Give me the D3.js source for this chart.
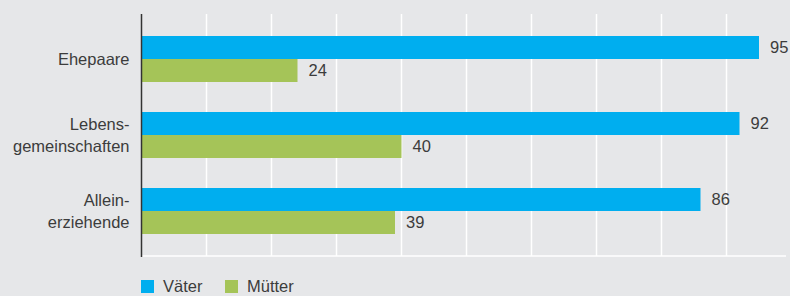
<!DOCTYPE html>
<html><head><meta charset="utf-8">
<script src="https://cdn.jsdelivr.net/npm/d3@7"></script>
<style>
html,body{margin:0;padding:0;background:#e6e7e9;}
svg{display:block;font-family:"Liberation Sans",Arial,sans-serif;}
</style></head>
<body>
<svg id="chart" width="790" height="296"></svg>
<script>
const categories = [["Ehepaare"], ["Lebens-", "gemeinschaften"], ["Allein-", "erziehende"]];
const categoryKeys = ["Ehepaare", "Lebensgemeinschaften", "Alleinerziehende"];
const seriesNames = ["Väter", "Mütter"];
const vaeter = [95, 92, 86];
const muetter = [24, 40, 39];
const xTicks = [10, 20, 30, 40, 50, 60, 70, 80, 90];
const colors = ["#00aeef", "#a5c458"];

const svg = d3.select("#chart");
const x = d3.scaleLinear().domain([0, 100]).range([141.5, 791.5]);
const y = d3.scaleBand().domain(categoryKeys).range([14, 256]).paddingInner(30/76).paddingOuter(22/76);
const sub = d3.scaleBand().domain(seriesNames).range([0, y.bandwidth()]);
const fs = 16.5, txt = "#3c3c3c";

svg.append("rect").attr("width", 790).attr("height", 296).attr("fill", "#e6e7e9");

// gridlines
svg.append("g").selectAll("line").data(xTicks).join("line")
  .attr("x1", d => x(d)).attr("x2", d => x(d))
  .attr("y1", 14).attr("y2", 256)
  .attr("stroke", "#ffffff").attr("stroke-width", 1.5);
// baseline
svg.append("line").attr("x1", x(0)).attr("x2", 786).attr("y1", 256).attr("y2", 256)
  .attr("stroke", "#ffffff").attr("stroke-width", 1.5);

const data = categoryKeys.map((k, i) => ({key: k, values: [vaeter[i], muetter[i]]}));

const g = svg.append("g").selectAll("g").data(data).join("g")
  .attr("transform", d => `translate(0,${y(d.key)})`);
g.selectAll("rect").data(d => d.values.map((v, j) => ({s: seriesNames[j], v, j}))).join("rect")
  .attr("x", x(0)).attr("y", d => sub(d.s))
  .attr("width", d => x(d.v) - x(0)).attr("height", sub.bandwidth())
  .attr("fill", d => colors[d.j]);
g.selectAll("text").data(d => d.values.map((v, j) => ({s: seriesNames[j], v, j}))).join("text")
  .attr("x", d => x(d.v) + 11).attr("y", d => sub(d.s) + sub.bandwidth() / 2)
  .attr("dy", "0.36em").attr("font-size", fs).attr("fill", txt)
  .text(d => d.v);

// y axis line
svg.append("line").attr("x1", x(0)).attr("x2", x(0)).attr("y1", 14).attr("y2", 257)
  .attr("stroke", "#333333").attr("stroke-width", 1.5);

// category labels
const lab = svg.append("g").selectAll("text").data(categoryKeys).join("text")
  .attr("text-anchor", "end").attr("font-size", fs).attr("fill", txt);
lab.each(function(k, i) {
  const lines = categories[i];
  const cy = y(k) + y.bandwidth() / 2;
  const t = d3.select(this);
  lines.forEach((ln, li) => {
    t.append("tspan").attr("x", 129.5)
      .attr("y", cy + (li - (lines.length - 1) / 2) * 22)
      .attr("dy", "0.36em").text(ln);
  });
});

// legend
const legX = [141, 225];
const leg = svg.append("g").selectAll("g").data(seriesNames).join("g")
  .attr("transform", (d, i) => `translate(${legX[i]},280)`);
leg.append("rect").attr("width", 13).attr("height", 13).attr("fill", (d, i) => colors[i]);
leg.append("text").attr("x", 22).attr("y", 6.5).attr("dy", "0.36em")
  .attr("font-size", fs).attr("fill", txt).text(d => d);
</script>
</body></html>
